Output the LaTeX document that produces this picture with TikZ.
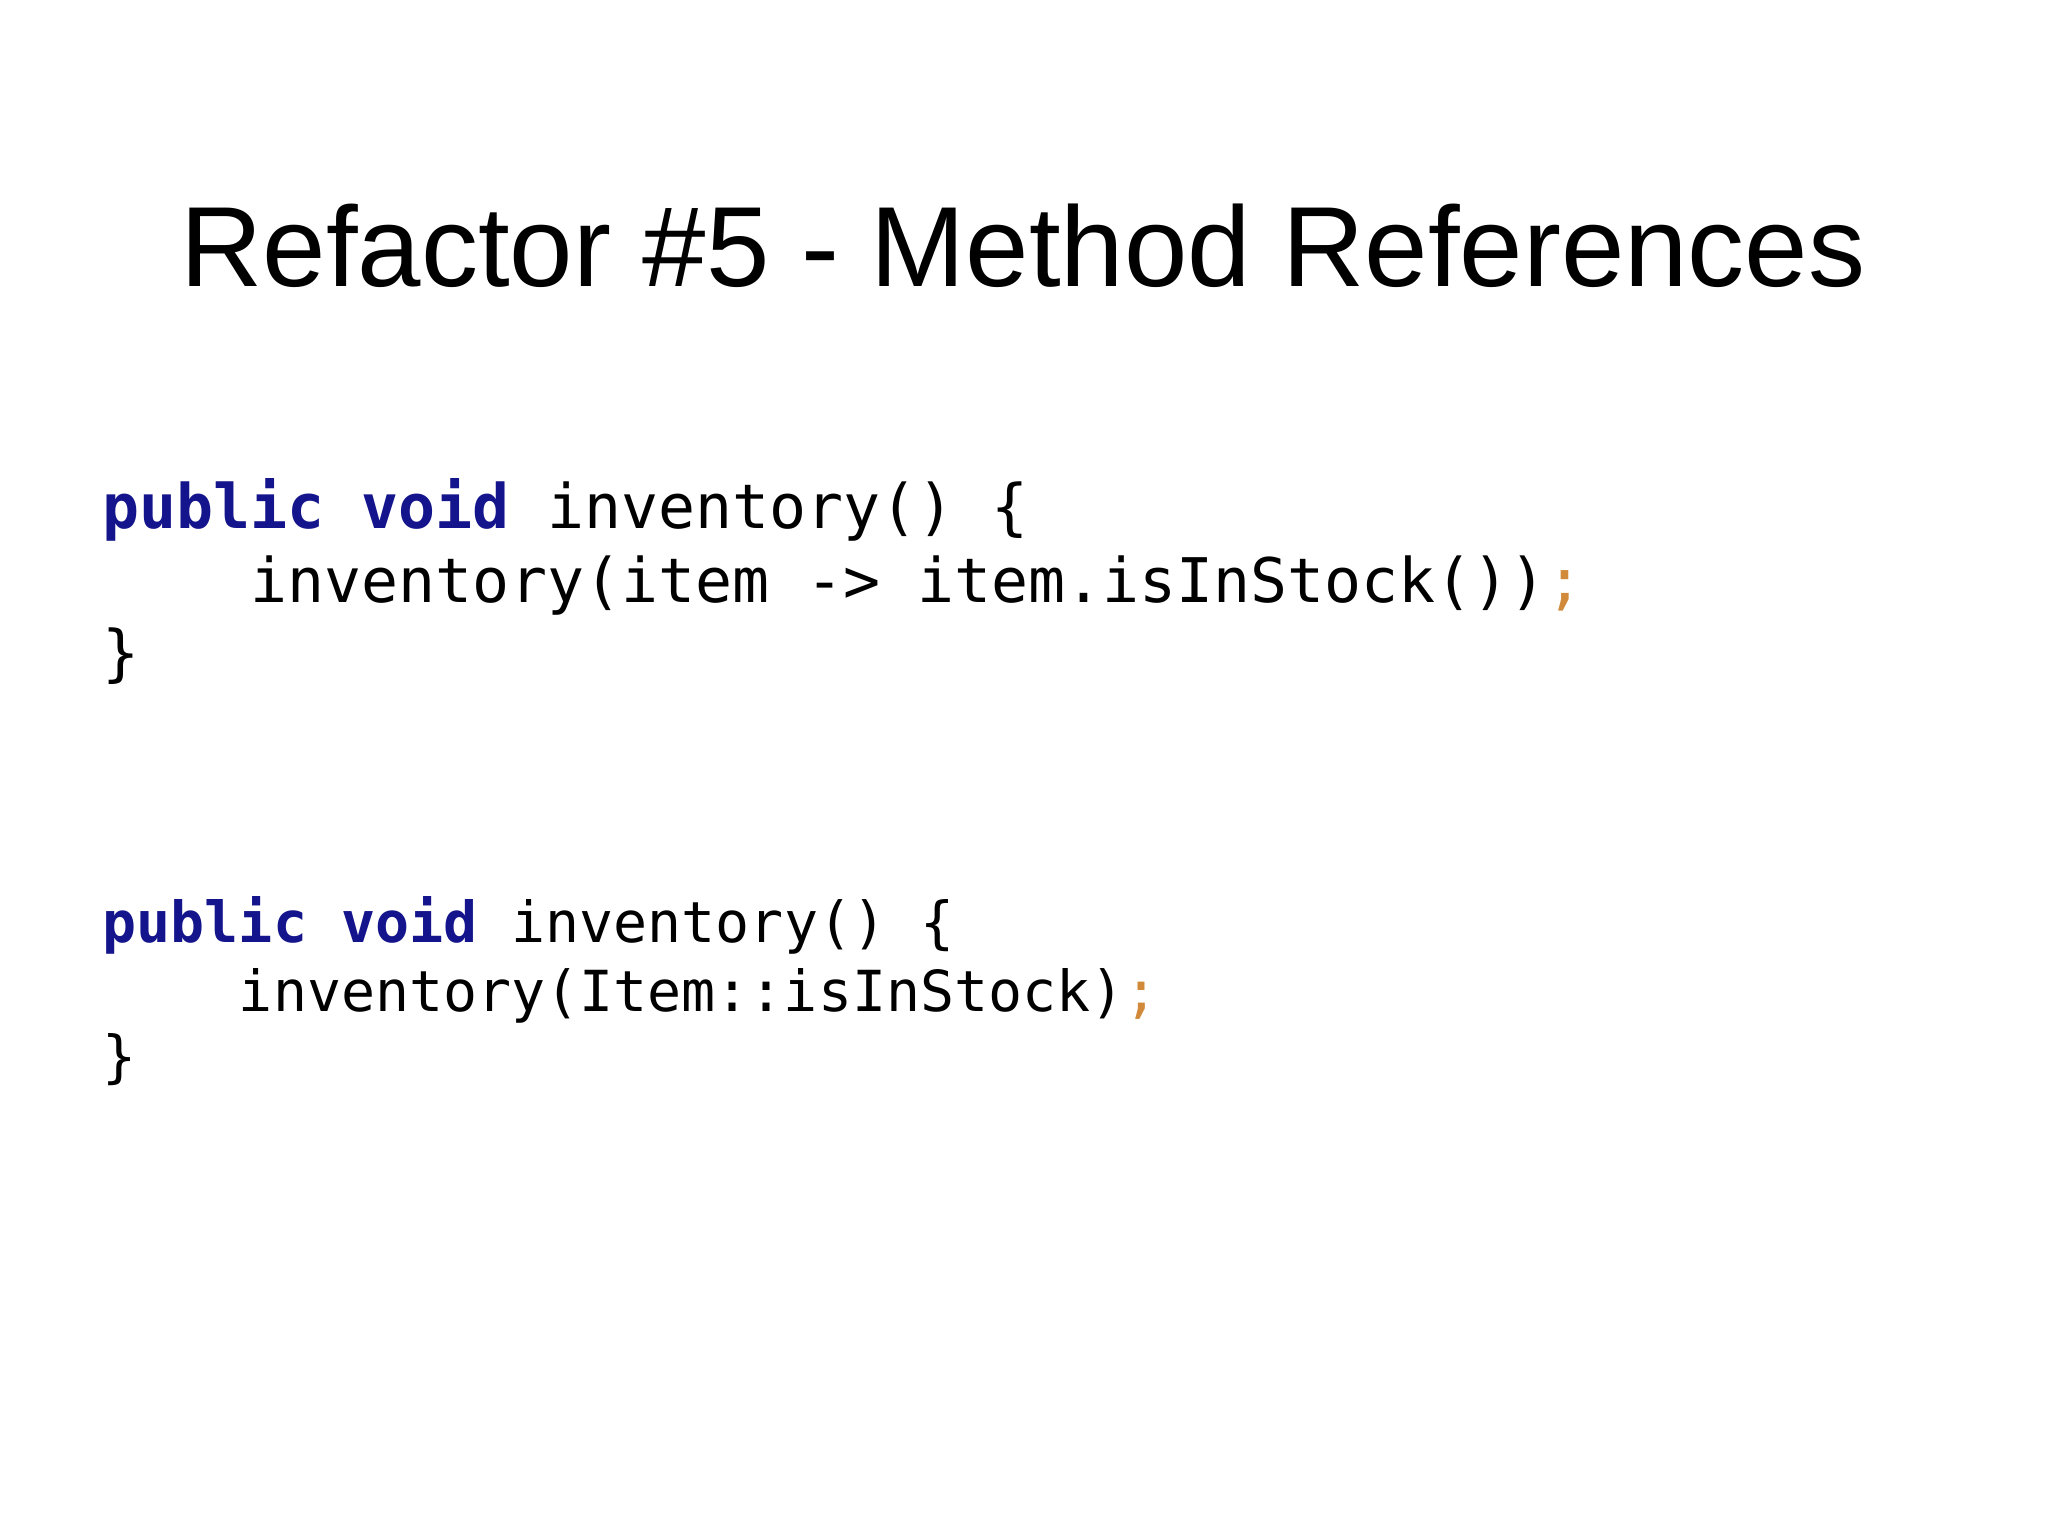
\documentclass[tikz,border=0pt]{standalone}
\usepackage{fontspec}
\setmainfont{Liberation Sans}
\setmonofont{DejaVu Sans Mono}
\definecolor{kw}{RGB}{20,20,140}
\definecolor{semi}{RGB}{208,138,58}
\begin{document}
\begin{tikzpicture}[x=1cm,y=1cm,
  codeA/.style={anchor=base west,inner sep=0pt,font=\ttfamily\fontsize{17.5}{20}\selectfont},
  codeB/.style={anchor=base west,inner sep=0pt,font=\ttfamily\fontsize{16.1}{19}\selectfont}]
\useasboundingbox[fill=white] (0,0) rectangle (20.48,15.36);
\node[anchor=base,inner sep=0pt] (title) at (10.23,15.36-2.87) {\resizebox{16.85cm}{!}{\fontsize{36}{40}\selectfont Refactor \#5 - Method References}};
\node[codeA] (a1) at (1.02,15.36-5.29) {\textbf{\textcolor{kw}{public}} \textbf{\textcolor{kw}{void}} inventory() \{};
\node[codeA] (a2) at (1.02,15.36-6.03) {\hspace*{4\fontcharwd\font`0}inventory(item -> item.isInStock())\textcolor{semi}{;}};
\node[codeA] (a3) at (1.02,15.36-6.75) {\}};
\node[codeB] (b1) at (1.02,15.36-9.43) {\textbf{\textcolor{kw}{public}} \textbf{\textcolor{kw}{void}} inventory() \{};
\node[codeB] (b2) at (1.02,15.36-10.12) {\hspace*{4\fontcharwd\font`0}inventory(Item::isInStock)\textcolor{semi}{;}};
\node[codeB] (b3) at (1.02,15.36-10.77) {\}};
\end{tikzpicture}
\end{document}
